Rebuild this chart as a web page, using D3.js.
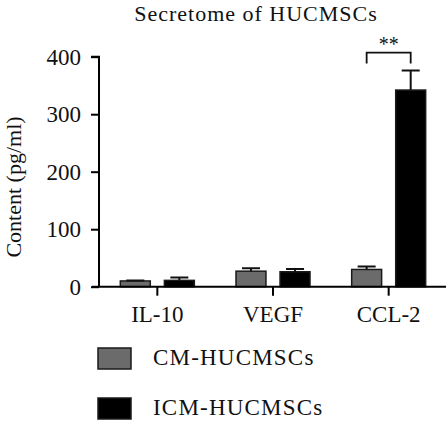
<!DOCTYPE html>
<html>
<head>
<meta charset="utf-8">
<script src="https://cdn.jsdelivr.net/npm/d3@7"></script>
<style>
  body { margin: 0; background: #fff; }
  svg text { font-family: "Liberation Serif", "Times New Roman", serif; fill: #111; }
</style>
</head>
<body>
<svg id="chart" width="446" height="424"></svg>
<script>
// values (pg/ml)
const categories = ['IL-10', 'VEGF', 'CCL-2'];
const groups = ['CM-HUCMSCs', 'ICM-HUCMSCs'];
const cmValues = [10, 27, 30];
const cmErrors = [1, 5, 5];
const icmValues = [11, 26, 342];
const icmErrors = [5, 5, 34];
const yTicks = [0, 100, 200, 300, 400];
const groupColors = ['#6b6b6b', '#000000'];

const svg = d3.select('#chart');

const y = d3.scaleLinear().domain([0, 400]).range([286.7, 56.7]);
const x0 = d3.scaleBand().domain(categories).range([99.5, 446.5]).padding(0);
const x1 = d3.scaleBand().domain(groups).range([0, 74]).paddingInner(0.32);
const offset = (x0.bandwidth() - 74) / 2;

const rows = categories.map((c, i) => ({
    cat: c,
    bars: [
        { group: groups[0], value: cmValues[i], err: cmErrors[i] },
        { group: groups[1], value: icmValues[i], err: icmErrors[i] }
    ]
}));

// title
svg.append('text')
    .attr('x', 256).attr('y', 21)
    .attr('text-anchor', 'middle')
    .style('font-size', '22px')
    .style('letter-spacing', '1px')
    .text('Secretome of HUCMSCs');

// y axis
const yAxis = svg.append('g')
    .attr('transform', 'translate(99,0)')
    .call(d3.axisLeft(y).tickValues(yTicks).tickSize(8).tickPadding(10));
yAxis.select('.domain').attr('stroke-width', 2).attr('d', `M-8,${y(400)}H0V${y(0)}`);
yAxis.selectAll('.tick line').attr('stroke-width', 2);
yAxis.selectAll('.tick text')
    .style('font-size', '23px')
    .style('font-family', '"Liberation Serif", serif')
    .attr('fill', '#111');

svg.append('text')
    .attr('transform', `translate(21,${187}) rotate(-90)`)
    .attr('text-anchor', 'middle')
    .style('font-size', '22px')
    .text('Content (pg/ml)');

// bars
const groupSel = svg.append('g')
    .selectAll('g')
    .data(rows)
    .enter().append('g')
    .attr('transform', d => `translate(${x0(d.cat) + offset},0)`);

groupSel.selectAll('rect')
    .data(d => d.bars)
    .enter().append('rect')
    .attr('x', d => x1(d.group))
    .attr('y', d => y(d.value))
    .attr('width', x1.bandwidth())
    .attr('height', d => y(0) - y(d.value))
    .attr('fill', (d, i) => groupColors[i])
    .attr('stroke', '#1a1a1a')
    .attr('stroke-width', 1.5);

// error bars, upward only
const capW = 18;
groupSel.selectAll('path.err')
    .data(d => d.bars)
    .enter().append('path')
    .attr('class', 'err')
    .attr('fill', 'none')
    .attr('stroke', '#111')
    .attr('stroke-width', 2)
    .attr('d', d => {
        const cx = x1(d.group) + x1.bandwidth() / 2;
        const top = y(d.value + d.err);
        return `M${cx},${y(d.value)}V${top}M${cx - capW / 2},${top}H${cx + capW / 2}`;
    });

// x axis
const xAxis = svg.append('g')
    .attr('transform', `translate(0,${y(0)})`)
    .call(d3.axisBottom(x0).tickSize(9).tickPadding(10));
xAxis.select('.domain').attr('stroke-width', 2).attr('d', 'M92,0H446');
xAxis.selectAll('.tick line').attr('stroke-width', 2);
xAxis.selectAll('.tick text')
    .style('font-size', '23px')
    .style('font-family', '"Liberation Serif", serif')
    .attr('fill', '#111');

// significance bracket on CCL-2
const sigCat = 'CCL-2';
const bx1 = x0(sigCat) + offset + x1(groups[0]) + x1.bandwidth() / 2;
const bx2 = x0(sigCat) + offset + x1(groups[1]) + x1.bandwidth() / 2;
svg.append('path')
    .attr('fill', 'none')
    .attr('stroke', '#111')
    .attr('stroke-width', 1.8)
    .attr('d', `M${bx1},${y(388)}V${y(407)}H${bx2}V${y(388)}`);
svg.append('text')
    .attr('x', (bx1 + bx2) / 2)
    .attr('y', 51)
    .attr('text-anchor', 'middle')
    .style('font-size', '20px')
    .attr('fill', '#444')
    .text('**');

// legend
const legend = svg.append('g')
    .selectAll('g')
    .data(groups)
    .enter().append('g')
    .attr('transform', (d, i) => `translate(98,${348 + i * 50})`);

legend.append('rect')
    .attr('width', 33)
    .attr('height', 21)
    .attr('fill', (d, i) => groupColors[i])
    .attr('stroke', '#1a1a1a')
    .attr('stroke-width', 1.5);

legend.append('text')
    .attr('x', 55)
    .attr('y', 17)
    .style('font-size', '23px')
    .style('letter-spacing', '1.2px')
    .text(d => d);
</script>
</body>
</html>
